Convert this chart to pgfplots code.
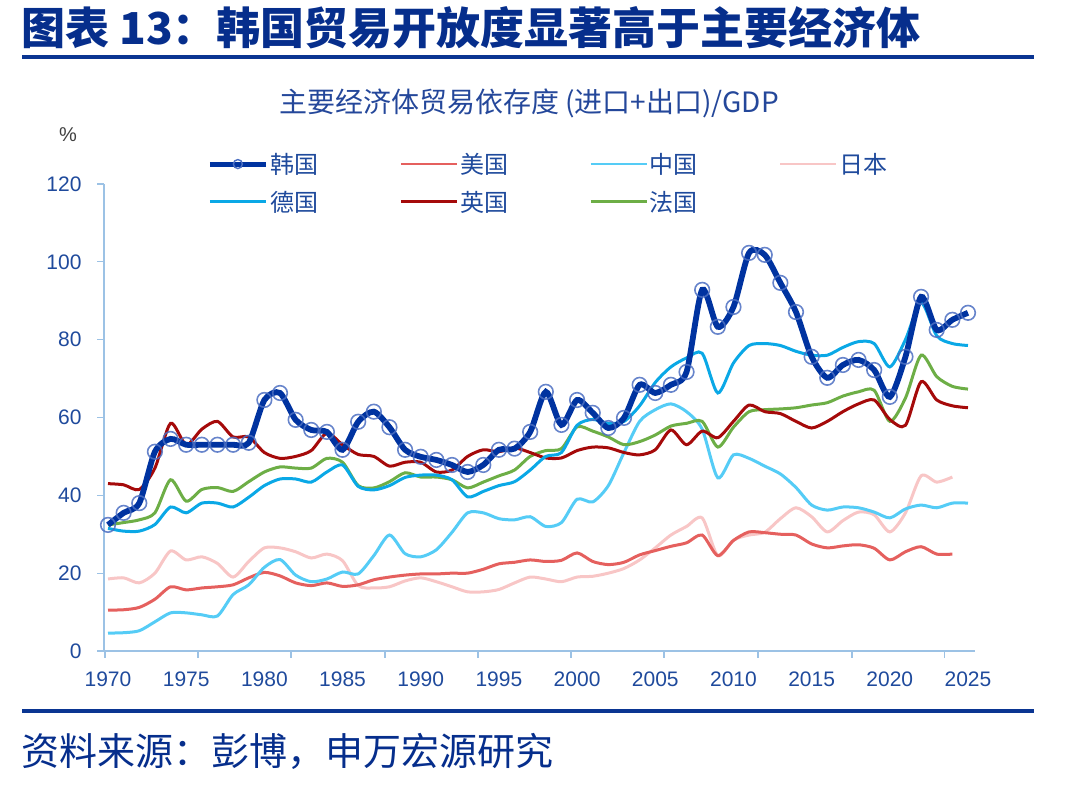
\documentclass[border=0pt]{standalone}
\usepackage{fontspec}
\setmainfont{Liberation Sans}
\newfontfamily\cjk{Noto Sans CJK SC}
\usepackage{pgfplots}
\usepackage{pgfplotstable}
\pgfplotsset{compat=1.18}

\definecolor{titleblue}{HTML}{062E8C}
\definecolor{ruleblue}{HTML}{0A3592}
\definecolor{subblue}{HTML}{24479A}
\definecolor{tickblue}{HTML}{1F4A9C}
\definecolor{axisblue}{HTML}{9CC2E5}
\definecolor{krblue}{HTML}{0033A0}
\definecolor{krmark}{HTML}{4C6FC2}
\definecolor{usred}{HTML}{E5605E}
\definecolor{cnblue}{HTML}{55CCF6}
\definecolor{jppink}{HTML}{F8C6C6}
\definecolor{deblue}{HTML}{0AA8E6}
\definecolor{ukred}{HTML}{A50A0A}
\definecolor{frgreen}{HTML}{6DAE46}

% Trade (imports + exports) as % of GDP
\pgfplotstableread{
year kr us cn jp de uk fr
1970 32.4 10.5 4.6 18.5 31.5 43.0 32.4
1971 35.5 10.6 4.7 18.8 30.8 42.7 33.0
1972 38.0 11.2 5.2 17.5 30.8 41.5 33.7
1973 51.2 13.3 7.5 20.0 32.5 47.0 35.5
1974 54.5 16.5 9.8 25.7 37.0 58.5 44.0
1975 53.0 15.7 9.8 23.4 35.5 53.0 38.5
1976 53.0 16.2 9.3 24.2 38.0 57.0 41.5
1977 53.0 16.5 9.0 22.5 38.0 59.0 42.0
1978 53.0 17.0 14.5 19.0 37.0 55.0 41.0
1979 53.5 18.8 17.0 23.0 39.5 55.0 43.5
1980 64.5 20.2 21.5 26.5 42.5 51.0 46.0
1981 66.3 19.3 23.5 26.5 44.2 49.5 47.3
1982 59.4 17.5 19.5 25.5 44.2 50.0 47.0
1983 56.8 16.8 17.8 23.9 43.4 51.5 47.0
1984 56.3 17.5 18.5 24.9 46.0 56.0 49.5
1985 51.7 16.6 20.3 23.2 47.8 53.0 48.5
1986 58.9 17.0 19.8 16.8 42.3 50.5 42.5
1987 61.5 18.3 24.5 16.2 41.4 50.0 41.9
1988 57.5 19.0 29.8 16.5 42.5 47.5 43.5
1989 51.7 19.5 25.0 18.0 44.6 48.5 45.8
1990 49.9 19.8 24.2 18.8 45.2 48.5 44.7
1991 49.1 19.8 26.0 17.8 45.2 46.0 44.7
1992 47.8 20.0 30.5 16.5 44.0 46.5 44.0
1993 46.0 20.0 35.5 15.2 39.6 50.0 41.9
1994 47.8 21.0 35.5 15.2 41.0 51.7 43.4
1995 51.7 22.4 34.0 15.8 42.5 51.2 45.0
1996 52.0 22.8 33.7 17.5 43.5 52.2 46.5
1997 56.3 23.4 34.5 19.0 46.5 51.0 50.0
1998 66.6 23.0 32.0 18.5 50.0 49.6 51.5
1999 58.1 23.3 33.0 17.8 51.0 49.6 52.0
2000 64.5 25.2 39.0 19.0 58.0 51.5 57.6
2001 61.2 23.0 38.3 19.2 59.5 52.4 56.5
2002 57.3 22.2 42.5 20.0 58.5 52.2 55.0
2003 59.9 22.8 51.0 21.2 59.0 51.0 53.0
2004 68.4 24.7 59.0 23.4 63.0 50.4 53.8
2005 66.3 25.8 62.0 26.5 69.0 51.7 55.5
2006 68.4 26.9 63.5 29.8 73.0 56.8 57.8
2007 71.7 27.8 61.5 32.0 75.3 53.0 58.5
2008 92.8 29.8 57.0 34.2 76.5 56.5 59.0
2009 83.3 24.5 44.5 24.5 66.3 54.8 52.4
2010 88.4 28.4 50.4 28.5 74.0 59.0 57.5
2011 102.3 30.6 49.5 29.8 78.5 63.2 61.5
2012 101.8 30.4 47.5 30.5 79.0 61.5 62.0
2013 94.6 30.0 45.5 34.0 78.5 61.0 62.2
2014 87.1 29.8 42.0 36.8 77.0 59.0 62.5
2015 75.6 27.5 37.5 34.5 76.0 57.3 63.2
2016 70.2 26.5 36.2 30.6 76.0 59.0 63.8
2017 73.5 27.0 37.0 33.5 78.0 61.5 65.5
2018 74.8 27.3 36.8 35.7 79.5 63.5 66.6
2019 72.2 26.4 35.7 35.0 79.0 64.5 67.0
2020 65.3 23.4 34.2 30.6 73.0 59.5 59.0
2021 75.6 25.5 36.5 35.5 80.0 58.0 65.0
2022 91.0 26.8 37.5 45.0 89.5 69.2 76.0
2023 82.5 24.9 36.8 43.4 81.0 64.5 70.5
2024 85.1 24.9 38.0 44.7 79.0 63.0 68.0
2025 86.9 nan 38.0 nan 78.5 62.5 67.3
}\tradedata

\begin{document}
\begin{tikzpicture}
\path[use as bounding box] (0pt,0pt) rectangle (1074pt,787pt);

% heading and rules
\node[anchor=west, inner sep=0pt, text=titleblue] at (21pt,759pt)
  {\cjk\bfseries\fontsize{44}{50}\selectfont 图表 13：韩国贸易开放度显著高于主要经济体};
\fill[ruleblue] (22pt,728pt) rectangle (1034pt,732pt);
\fill[ruleblue] (22pt,74pt) rectangle (1034pt,78pt);
\node[anchor=west, inner sep=0pt, text=titleblue] at (21pt,36pt)
  {\cjk\fontsize{38}{42}\selectfont 资料来源：彭博，申万宏源研究};

% chart heading and unit
\node[text=subblue, inner sep=0pt] at (529pt,684pt)
  {\cjk\fontsize{28}{31}\selectfont 主要经济体贸易依存度 (进口+出口)/GDP};
\node[text=black!75, inner sep=0pt] at (68pt,652pt)
  {\fontsize{20}{22}\selectfont \%};

\begin{axis}[
  at={(104pt,136pt)}, anchor=south west,
  scale only axis, width=871pt, height=467pt,
  xmin=1969.744, xmax=2025.448, ymin=0, ymax=120,
  axis x line*=bottom, axis y line*=left,
  axis line style={draw=axisblue, line width=1.3pt},
  xtick={1970,1975,...,2025},
  ytick={0,20,...,120},
  xticklabel style={/pgf/number format/1000 sep={}},
  /pgf/number format/assume math mode=true,
  tick label style={font=\fontsize{21}{24}\selectfont, text=tickblue},
  xtick style={draw=none},
  ytick style={draw=axisblue, line width=1.3pt},
  major tick length=7pt, tick align=outside,
  xticklabel style={yshift=-10pt},
  yticklabel style={xshift=-12pt},
  clip=false,
  legend columns=4,
  legend cell align=left,
  legend style={at={(0.115,1.075)}, anchor=north west, draw=none, fill=none,
    font=\cjk\fontsize{24}{26}\selectfont, text=tickblue,
    /tikz/every even column/.append style={column sep=79pt},
    row sep=12pt},
  legend image code/.code={\draw[mark repeat=2, mark phase=2, #1]
    plot coordinates {(0pt,0pt) (28pt,0pt) (56pt,0pt)};},
  every axis plot/.append style={smooth, tension=0.45},
]
% x-axis tick marks of the category axis
\pgfplotsinvokeforeach{1969.81,1975.76,1981.70,1987.71,1993.66,1999.61,2005.56,2011.57,2017.58,2023.50}{
  \draw[axisblue, line width=1.3pt] (axis cs:#1,0) -- ++(0pt,-7pt);
}

\addlegendimage{krblue, line width=5pt, mark=o, mark size=4.5pt,
  mark options={draw=krmark, line width=1.4pt, fill=none}}
\addlegendentry{韩国}
\addlegendimage{usred, line width=2.8pt}\addlegendentry{美国}
\addlegendimage{cnblue, line width=2.8pt}\addlegendentry{中国}
\addlegendimage{jppink, line width=2.8pt}\addlegendentry{日本}
\addlegendimage{deblue, line width=2.8pt}\addlegendentry{德国}
\addlegendimage{ukred, line width=2.8pt}\addlegendentry{英国}
\addlegendimage{frgreen, line width=2.8pt}\addlegendentry{法国}

\addplot[forget plot, jppink, line width=3pt] table[x=year, y=jp] {\tradedata};
\addplot[forget plot, usred, line width=3pt] table[x=year, y=us] {\tradedata};
\addplot[forget plot, cnblue, line width=3pt] table[x=year, y=cn] {\tradedata};
\addplot[forget plot, frgreen, line width=3pt] table[x=year, y=fr] {\tradedata};
\addplot[forget plot, ukred, line width=3pt] table[x=year, y=uk] {\tradedata};
\addplot[forget plot, deblue, line width=3pt] table[x=year, y=de] {\tradedata};
\addplot[forget plot, krblue, line width=5.8pt, mark=o, mark size=7.3pt,
  mark options={draw=krmark, draw opacity=0.85, line width=1.6pt, fill=none}]
  table[x=year, y=kr] {\tradedata};
\end{axis}
\end{tikzpicture}
\end{document}
